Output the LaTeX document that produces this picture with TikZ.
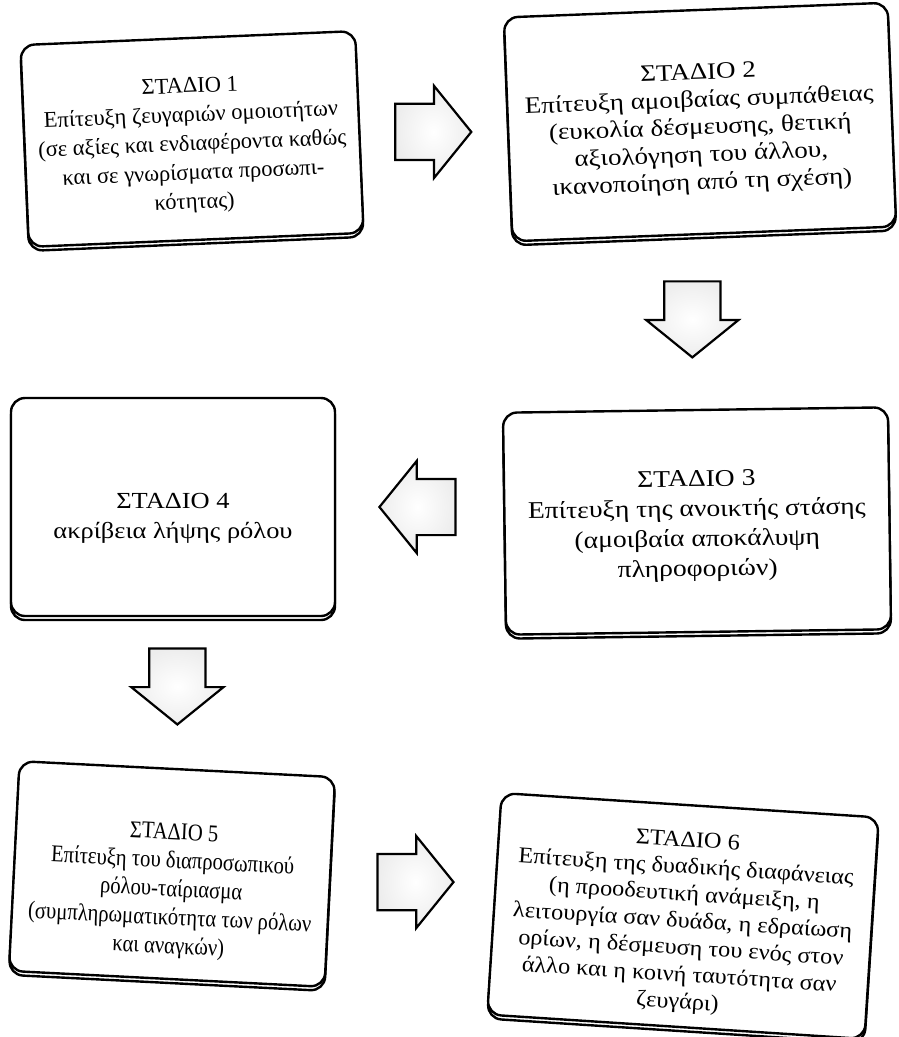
\documentclass[tikz,border=0pt]{standalone}
\usepackage{fontspec}
\setmainfont{Liberation Serif}
\newfontfamily\narrowserif[FakeStretch=0.86]{Liberation Serif}
\newfontfamily\wideserif[FakeStretch=1.15]{Liberation Serif}
\newfontfamily\semiwideserif[FakeStretch=1.08]{Liberation Serif}
\usetikzlibrary{shapes.arrows,shadows}
\begin{document}
\begin{tikzpicture}[x=1pt,y=-1pt,
  stage/.style={draw, line width=2.4pt, rounded corners=14pt, fill=white,
    align=center, inner sep=0pt, font=\fontsize{22.5}{29}\selectfont,
    copy shadow={shadow xshift=0pt, shadow yshift=-4pt}},
  blockarrow/.style={single arrow, draw, line width=2.2pt, inner xsep=0pt,
    inner ysep=27pt, minimum height=76pt, single arrow head extend=18pt,
    single arrow tip angle=102, inner color=white, outer color=gray!14,
    sloped, allow upside down, anchor=tail}]
\useasboundingbox (0,0) rectangle (899,1037);
\node[stage, minimum width=335pt, minimum height=202pt, rotate=2.4] (s1) at (192,139)
  {\rule{0pt}{28pt}ΣΤΑΔΙΟ 1\\Επίτευξη ζευγαριών ομοιοτήτων\\(σε αξίες και ενδιαφέροντα καθώς\\και σε γνωρίσματα προσωπι-\\κότητας)};
\node[stage, minimum width=384pt, minimum height=224pt, rotate=2.2,
  font=\wideserif\fontsize{23.5}{27.5}\selectfont] (s2) at (700,122)
  {\rule{0pt}{30pt}ΣΤΑΔΙΟ 2\\Επίτευξη αμοιβαίας συμπάθειας\\(ευκολία δέσμευσης, θετική\\αξιολόγηση του άλλου,\\ικανοποίηση από τη σχέση)};
\node[stage, minimum width=385pt, minimum height=222pt, rotate=0.8,
  font=\wideserif\fontsize{24}{30}\selectfont] (s3) at (697,521)
  {\rule{0pt}{26pt}ΣΤΑΔΙΟ 3\\Επίτευξη της ανοικτής στάσης\\(αμοιβαία αποκάλυψη\\πληροφοριών)};
\node[stage, minimum width=324pt, minimum height=218pt,
  font=\wideserif\fontsize{23}{30}\selectfont] (s4) at (173,507)
  {\rule{0pt}{38pt}ΣΤΑΔΙΟ 4\\ακρίβεια λήψης ρόλου};
\node[stage, minimum width=316pt, minimum height=210pt, rotate=-2.9,
  font=\narrowserif\fontsize{24}{28.5}\selectfont] (s5) at (172,874)
  {\rule{0pt}{50pt}ΣΤΑΔΙΟ 5\\Επίτευξη του διαπροσωπικού\\ρόλου-ταίριασμα\\(συμπληρωματικότητα των ρόλων\\και αναγκών)};
\node[stage, minimum width=378pt, minimum height=222pt, rotate=-3.7,
  font=\semiwideserif\fontsize{22.5}{27}\selectfont] (s6) at (683,916)
  {\rule{0pt}{28pt}ΣΤΑΔΙΟ 6\\Επίτευξη της δυαδικής διαφάνειας\\(η προοδευτική ανάμειξη, η\\λειτουργία σαν δυάδα, η εδραίωση\\ορίων, η δέσμευση του ενός στον\\άλλο και η κοινή ταυτότητα σαν\\ζευγάρι)};
\path (s1.east) -- node[blockarrow, pos=0.23] (a12) {} (s1.east -| s2.west);
\path ([xshift=-12pt]s2.south) -- node[blockarrow, pos=0.26] (a23) {} ([xshift=-12pt]s2.south |- s3.north);
\path (s4.east -| s3.west) -- node[blockarrow, pos=0.28] (a34) {} (s4.east);
\path (s4.south -| s5.north) -- node[blockarrow, pos=0.2] (a45) {} (s5.north);
\path (s5.east) -- node[blockarrow, pos=0.28] (a56) {} (s5.east -| s6.west);
\end{tikzpicture}
\end{document}
